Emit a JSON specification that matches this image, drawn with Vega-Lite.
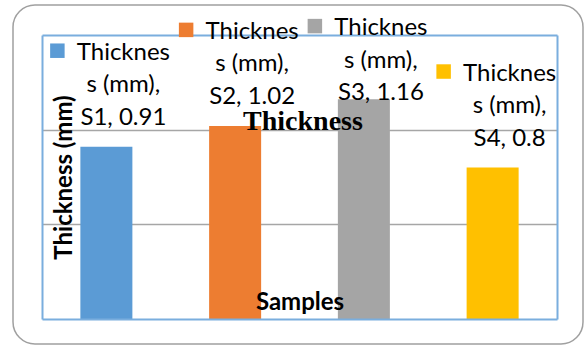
{
  "$schema": "https://vega.github.io/schema/vega-lite/v6.json",
  "width": 570,
  "height": 339,
  "autosize": {"type": "none"},
  "padding": {"left": 13, "top": 5, "right": 1, "bottom": 1},
  "background": "white",
  "title": {
    "text": "Thickness",
    "font": "Liberation Serif",
    "fontSize": 28,
    "fontWeight": "bold",
    "color": "#000000",
    "anchor": "middle",
    "frame": "group",
    "baseline": "alphabetic",
    "offset": -153,
    "dx": 5
  },
  "data": {
    "values": [
      {"sample": "S1", "thickness": 0.91, "label": "Thicknes\ns (mm),\nS1, 0.91"},
      {"sample": "S2", "thickness": 1.02, "label": "Thicknes\ns (mm),\nS2, 1.02"},
      {"sample": "S3", "thickness": 1.16, "label": "Thicknes\ns (mm),\nS3, 1.16"},
      {"sample": "S4", "thickness": 0.8, "label": "Thicknes\ns (mm),\nS4, 0.8"}
    ]
  },
  "layer": [
    {
      "mark": {"type": "bar"},
      "encoding": {
        "x": {
          "field": "sample", "type": "nominal", "sort": null,
          "scale": {"type": "band", "range": [29, 544], "paddingInner": 0.596, "paddingOuter": 0.298},
          "axis": {
            "orient": "bottom", "offset": -25, "domain": true, "domainColor": "#7aaede", "domainWidth": 2,
            "labels": false, "ticks": false, "grid": false, "zindex": 1,
            "title": "Samples", "titleFont": "Lato", "titleFontSize": 24, "titleFontWeight": "bold",
            "titleColor": "#000000", "titleBaseline": "alphabetic", "titleY": -10
          }
        },
        "y": {
          "field": "thickness", "type": "quantitative",
          "scale": {"domain": [0, 1.5], "range": [314, 30], "nice": false, "zero": true},
          "axis": {
            "orient": "left", "offset": -29, "domain": true, "domainColor": "#7aaede", "domainWidth": 2,
            "labels": false, "ticks": false, "grid": true, "values": [0.5, 1],
            "gridColor": "#a6a6a6", "gridWidth": 1.5,
            "title": "Thickness (mm)", "titleFont": "Lato", "titleFontSize": 24, "titleFontWeight": "bold",
            "titleColor": "#000000", "titleAngle": 270, "titleBaseline": "alphabetic", "titleX": 29
          }
        },
        "color": {
          "field": "sample", "type": "nominal",
          "scale": {"domain": ["S1", "S2", "S3", "S4"], "range": ["#5b9bd5", "#ed7d31", "#a5a5a5", "#ffc000"]},
          "legend": null
        }
      }
    },
    {
      "mark": {
        "type": "text", "font": "Lato", "fontSize": 24, "color": "#000000",
        "align": "center", "baseline": "alphabetic", "lineBreak": "\n", "lineHeight": 32.5,
        "dx": 17, "dy": -87
      },
      "encoding": {
        "x": {
          "field": "sample", "type": "nominal", "sort": null,
          "scale": {"type": "band", "range": [29, 544], "paddingInner": 0.596, "paddingOuter": 0.298},
          "axis": {
            "orient": "top", "offset": -30, "domain": true, "domainColor": "#7aaede", "domainWidth": 2,
            "labels": false, "ticks": false, "grid": false, "title": null
          }
        },
        "y": {
          "field": "thickness", "type": "quantitative",
          "scale": {"domain": [0, 1.04, 1.49, 1.5], "range": [314, 117.1, 117.1, 30], "nice": false, "zero": false},
          "axis": {
            "orient": "right", "offset": -26, "domain": true, "domainColor": "#7aaede", "domainWidth": 2,
            "labels": false, "ticks": false, "grid": false, "title": null
          }
        },
        "text": {"field": "label", "type": "nominal"}
      }
    },
    {
      "mark": {"type": "square", "size": 210, "opacity": 1, "xOffset": -49, "yOffset": -96},
      "encoding": {
        "x": {
          "field": "sample", "type": "nominal", "sort": null,
          "scale": {"type": "band", "range": [29, 544], "paddingInner": 0.596, "paddingOuter": 0.298},
          "axis": null
        },
        "y": {
          "field": "thickness", "type": "quantitative",
          "scale": {"domain": [0, 1.04, 1.49, 1.5], "range": [314, 117.1, 117.1, 30], "nice": false, "zero": false},
          "axis": null
        },
        "color": {
          "field": "sample", "type": "nominal",
          "scale": {"domain": ["S1", "S2", "S3", "S4"], "range": ["#5b9bd5", "#ed7d31", "#a5a5a5", "#ffc000"]},
          "legend": null
        }
      }
    }
  ],
  "resolve": {"scale": {"x": "independent", "y": "independent"}},
  "config": {
    "view": {"stroke": "#a0a0a0", "strokeWidth": 1.5, "cornerRadius": 22}
  }
}
